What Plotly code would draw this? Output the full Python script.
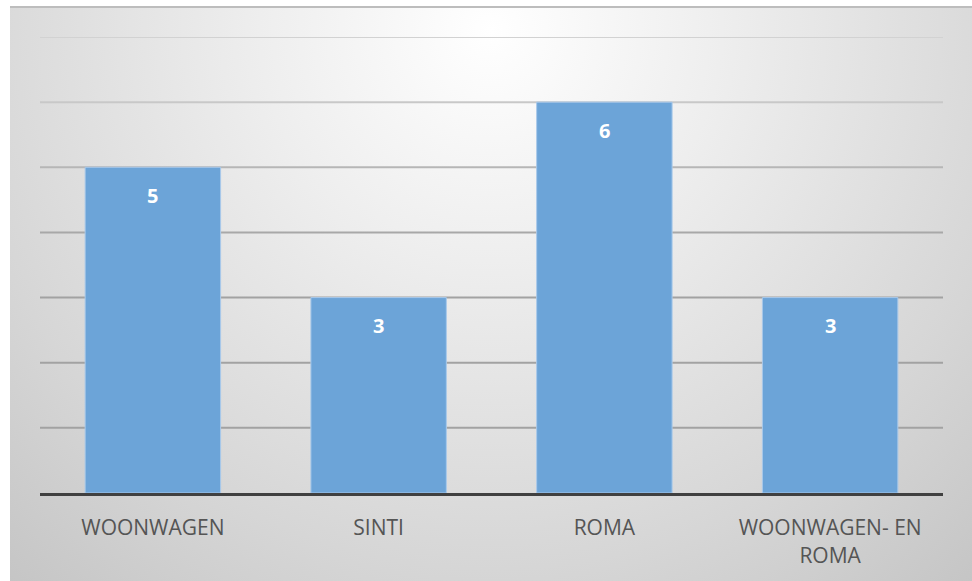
import base64
import plotly.graph_objects as go

# Aantal per groep
categories = ["Woonwagen", "Sinti", "Roma", "Woonwagen- en Roma"]
tick_labels = ["WOONWAGEN", "SINTI", "ROMA", "WOONWAGEN- EN<br>ROMA"]
values = [5, 3, 6, 3]

# Horizontal grid levels and their line shades (lighter towards the top)
grid_levels = [1, 2, 3, 4, 5, 6, 7]
grid_colors = ["#a2a2a2", "#a2a2a2", "#a2a2a2", "#a8a8a8", "#b6b6b6", "#c8c8c8", "#d2d2d2"]

W, H = 972, 581
ML, MR, MT, MB = 40, 29, 37, 88
plot_w = W - ML - MR
plot_h = H - MT - MB

# Radial grey gradient panel behind the chart
BX0, BY0, BX1, BY1 = 10, 6, 972, 581
bw, bh = BX1 - BX0, BY1 - BY0
svg = f"""<svg xmlns='http://www.w3.org/2000/svg' width='{bw}' height='{bh}' viewBox='0 0 {bw} {bh}' preserveAspectRatio='none'>
<defs><radialGradient id='g' gradientUnits='userSpaceOnUse' cx='{bw/2}' cy='24' r='770'>
<stop offset='0' stop-color='#ffffff'/><stop offset='0.3' stop-color='#eeeeee'/>
<stop offset='0.7' stop-color='#d6d6d6'/><stop offset='1' stop-color='#c2c2c2'/>
</radialGradient></defs>
<rect x='0' y='0' width='{bw}' height='{bh}' fill='url(#g)'/>
<line x1='0' y1='1' x2='{bw}' y2='1' stroke='#bdbdbd' stroke-width='2'/>
</svg>"""
uri = "data:image/svg+xml;base64," + base64.b64encode(svg.encode()).decode()

px = lambda x: (x - ML) / plot_w
py = lambda y: (H - MB - y) / plot_h

fig = go.Figure()
fig.add_trace(go.Bar(
    x=categories,
    y=values,
    marker=dict(color="#6ca4d8", line=dict(color="#a9c9ea", width=1)),
    width=0.6,
    hoverinfo="x+y",
))

for c, v in zip(categories, values):
    fig.add_annotation(
        x=c, y=v, text=f"<b>{v}</b>", showarrow=False,
        yanchor="middle", yshift=-28,
        font=dict(family="Open Sans", size=20, color="#ffffff"),
    )

for lvl, col in zip(grid_levels, grid_colors):
    fig.add_shape(
        type="line", xref="paper", yref="y", x0=0, x1=1, y0=lvl, y1=lvl,
        line=dict(color=col, width=2), layer="below",
    )

fig.add_layout_image(
    source=uri, xref="paper", yref="paper",
    x=px(BX0), y=py(BY0), sizex=px(BX1) - px(BX0), sizey=py(BY0) - py(BY1),
    xanchor="left", yanchor="top", sizing="stretch", layer="below",
)

fig.update_layout(
    width=W, height=H,
    margin=dict(l=ML, r=MR, t=MT, b=MB, pad=0),
    paper_bgcolor="#ffffff",
    plot_bgcolor="rgba(0,0,0,0)",
    showlegend=False,
    bargap=0.4,
    font=dict(family="Open Sans", color="#555555"),
)
fig.update_xaxes(
    tickvals=categories, ticktext=tick_labels,
    tickfont=dict(family="Open Sans", size=21, color="#555555"),
    showline=True, linecolor="#404040", linewidth=3,
    ticks="", showgrid=False, ticklabelstandoff=14,
)
fig.update_yaxes(
    range=[0, 7], showgrid=False, zeroline=False,
    showticklabels=False, ticks="",
)

fig.write_html("out.html", config={"displayModeBar": False})
